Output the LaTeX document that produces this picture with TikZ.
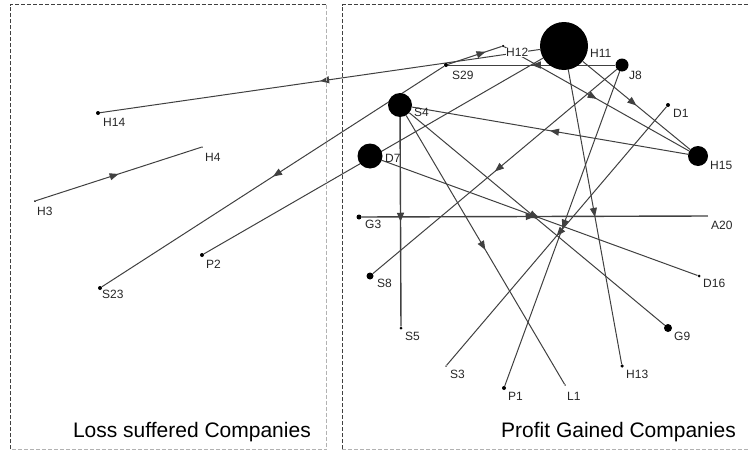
\documentclass[tikz,border=0pt]{standalone}
\usepackage{fontspec}
\setmainfont{Liberation Sans}
\usetikzlibrary{arrows.meta,decorations.markings}
\pgfdeclarelayer{bg}
\pgfsetlayers{bg,main}
\begin{document}
\begin{tikzpicture}[x=1pt,y=-1pt,
  vtx/.style={circle,fill=black,draw=none,inner sep=0pt,minimum size=#1},
  vtx/.default=4pt,
  lbl/.style={anchor=north west,inner sep=0pt,text=black!85,font=\fontsize{12}{14}\selectfont},
  link/.style={draw=black!75,line width=1pt},
  marr/.style={postaction={decorate},decoration={markings,mark=at position #1 with {\arrow{Triangle[length=9pt,width=7pt]}}}},
  marr/.default=0.5,
  title/.style={anchor=base east,inner sep=0pt,font=\fontsize{21}{25}\selectfont},
  frdark/.style={draw=black!75,line width=0.8pt,dash pattern=on 4pt off 2pt},
  frlight/.style={draw=black!30,line width=0.8pt,dash pattern=on 4pt off 2pt}]
\useasboundingbox (0,0) rectangle (748,450);
% frames
\draw[frdark] (10,449) -- (10,4.5) -- (326.5,4.5);
\draw[frlight] (326.5,4.5) -- (326.5,449.5) -- (10,449.5);
\draw[frdark] (342,449) -- (342,4.5) -- (748,4.5);
\draw[frlight] (342,449.5) -- (748,449.5);
% vertices
\node[vtx=48pt] (H11) at (564,46) {};
\node[vtx=2.5pt] (H12) at (503,46) {};
\node[vtx=13pt] (J8) at (622,65) {};
\node[vtx=4pt] (S29) at (446,65) {};
\node[vtx=24pt] (S4) at (400,105) {};
\node[vtx=25pt] (D7) at (370,156) {};
\node[vtx=4pt] (D1) at (668,105) {};
\node[vtx=20pt] (H15) at (698,156) {};
\node[vtx=5pt] (G3) at (359,217) {};
\node[vtx=0pt] (A20) at (708,216) {};
\node[vtx=7pt] (S8) at (370,276) {};
\node[vtx=3pt] (S5) at (401,328) {};
\node[vtx=1.5pt] (S3) at (446,366) {};
\node[vtx=4pt] (P1) at (504,388) {};
\node[vtx=1.5pt] (L1) at (565,385) {};
\node[vtx=3.5pt] (H13) at (622,366) {};
\node[vtx=8pt] (G9) at (668,328) {};
\node[vtx=3pt] (D16) at (699,276) {};
\node[vtx=4pt] (H14) at (98,113) {};
\node[vtx=1.5pt] (H4) at (202,147) {};
\node[vtx=2pt] (H3) at (35,201) {};
\node[vtx=4pt] (S23) at (100,288) {};
\node[vtx=4pt] (P2) at (202,255) {};
% links
\begin{pgfonlayer}{bg}
\draw[link,marr] (H3) -- (H4);
\draw[link,marr] (H11) -- (H14);
\draw[link,marr=0.7] (S29) -- (H12);
\draw[link,marr] (S29) -- (S23);
\draw[link] (P2) -- (H11);
\draw[link,marr] (J8) -- (S29);
\draw[link,marr] (H12) -- (H15);
\draw[link,marr] (H11) -- (H15);
\draw[link,marr] (H15) -- (S4);
\draw[link,marr] (J8) -- (S8);
\draw[link,marr] (J8) -- (P1);
\draw[link,marr] (D1) -- (S3);
\draw[link,marr] (H11) -- (H13);
\draw[link,marr,line width=1.4pt] (S4) -- (S5);
\draw[link,marr] (S4) -- (L1);
\draw[link,marr] (S4) -- (G9);
\draw[link,marr] (D7) -- (D16);
\draw[link,marr,line width=1.4pt] (G3) -- (A20);
\end{pgfonlayer}
% labels
\node[lbl] (tH11) at (590,49) {H11};
\node[lbl,fill=white] (tH12) at (506,48) {H12};
\node[lbl] (tJ8) at (629,71) {J8};
\node[lbl] (tS29) at (452,71) {S29};
\node[lbl] (tS4) at (414,108) {S4};
\node[lbl] (tD1) at (673,109) {D1};
\node[lbl] (tD7) at (385,154) {D7};
\node[lbl] (tH15) at (710,161) {H15};
\node[lbl] (tG3) at (365,220) {G3};
\node[lbl] (tA20) at (711,221) {A20};
\node[lbl] (tS8) at (377,279) {S8};
\node[lbl] (tS5) at (405,332) {S5};
\node[lbl] (tS3) at (450,370) {S3};
\node[lbl] (tP1) at (508,392) {P1};
\node[lbl] (tL1) at (567,392) {L1};
\node[lbl] (tH13) at (626,370) {H13};
\node[lbl] (tG9) at (674,332) {G9};
\node[lbl] (tD16) at (703,279) {D16};
\node[lbl] (tH14) at (103,118) {H14};
\node[lbl] (tH4) at (205,153) {H4};
\node[lbl] (tH3) at (37,207) {H3};
\node[lbl] (tS23) at (102,290) {S23};
\node[lbl] (tP2) at (206,260) {P2};
% titles
\node[title] (tLoss) at (311,437) {Loss suffered Companies};
\node[title] (tProfit) at (736,437) {Profit Gained Companies};
\end{tikzpicture}
\end{document}
